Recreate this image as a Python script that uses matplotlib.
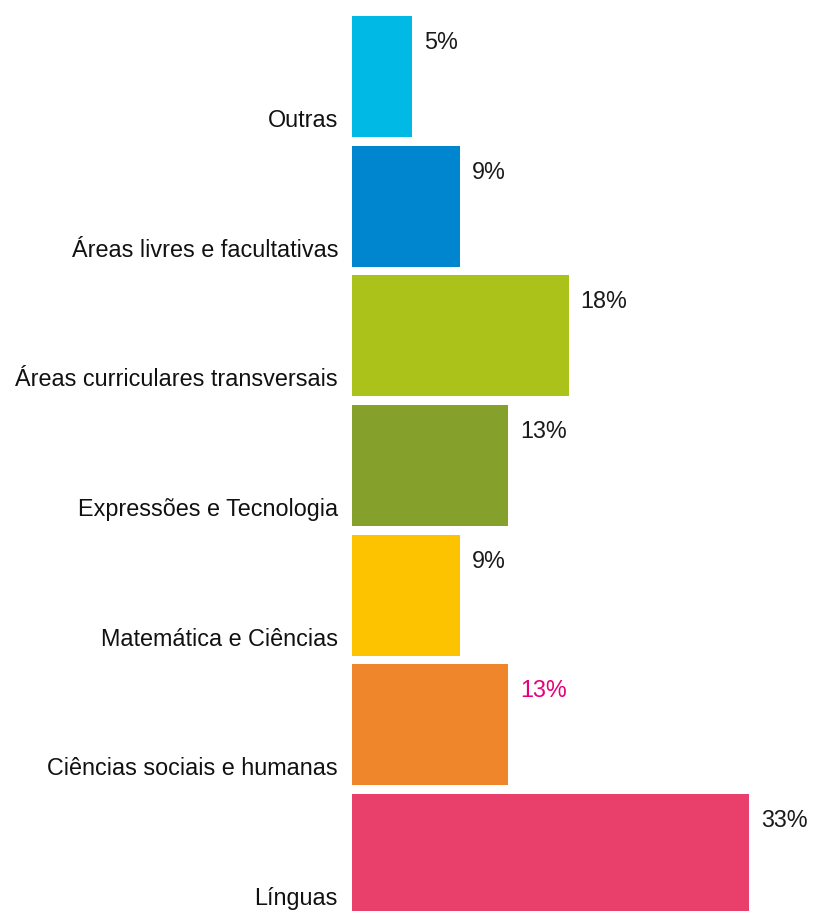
import matplotlib.pyplot as plt

categorias = ["Outras", "Áreas livres e facultativas", "Áreas curriculares transversais",
              "Expressões e Tecnologia", "Matemática e Ciências",
              "Ciências sociais e humanas", "Línguas"]
valores = [5, 9, 18, 13, 9, 13, 33]
cores = ["#00b9e4", "#0085cf", "#abc21a", "#85a02b", "#fdc300", "#f0862c", "#e8406b"]
cores_rotulos = ["#1a1a1a", "#1a1a1a", "#1a1a1a", "#1a1a1a", "#1a1a1a", "#e6007e", "#1a1a1a"]

plt.rcParams['font.family'] = ['Liberation Sans', 'DejaVu Sans']

fig = plt.figure(figsize=(8.16, 9.11), dpi=100)
ax = fig.add_axes([352 / 816, 0, 464 / 816, 1])

pos = list(range(len(categorias)))
ax.barh(pos, valores, height=0.933, color=cores)

for i, (cat, v, c) in enumerate(zip(categorias, valores, cores_rotulos)):
    ax.annotate(cat, (0, i + 0.39), xytext=(-14, 0), textcoords='offset pixels',
                ha='right', va='baseline', fontsize=16.8, color="#111111", annotation_clip=False)
    ax.annotate(f"{v}%", (v, i - 0.212), xytext=(12, 0), textcoords='offset pixels',
                ha='left', va='baseline', fontsize=16.8, color=c, annotation_clip=False)

ax.set_xlim(0, 464 / 12.03)
ax.set_ylim(6.435, -0.590)
ax.axis('off')

fig.savefig("out.png", dpi=100)
